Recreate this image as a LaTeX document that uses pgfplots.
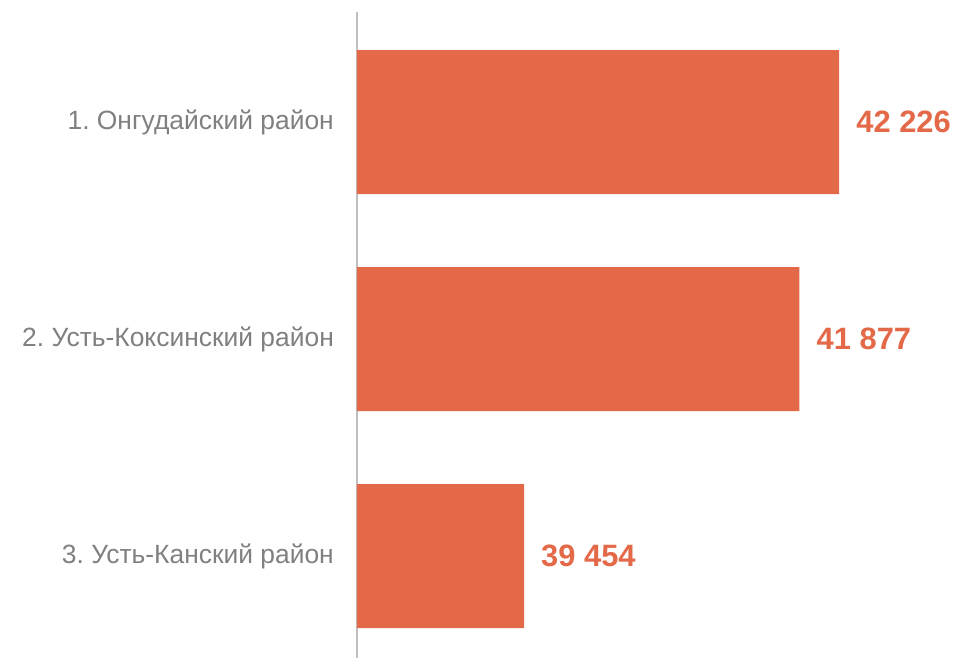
\documentclass[border=0pt]{standalone}
\usepackage{pgfplots}
\pgfplotsset{compat=1.18}
\usepackage{fontspec}
\setmainfont{Liberation Sans}
\definecolor{barc}{RGB}{227,105,72}
\definecolor{labc}{RGB}{128,128,128}
\definecolor{axc}{RGB}{191,191,191}
\begin{document}
\frenchspacing
\begin{tikzpicture}
\useasboundingbox (-357bp,0bp) rectangle (602bp,658bp);
\begin{axis}[
  at={(0,0)}, anchor=south west,
  scale only axis,
  width=602bp, height=646bp,
  xbar, bar width=144bp,
  xmin=37985, xmax=43280,
  ymin=-0.507, ymax=2.47,
  y dir=reverse,
  axis x line=none,
  axis y line*=left,
  y axis line style={draw=axc, line width=2.2bp, -},
  ytick={0,1,2},
  yticklabels={1. Онгудайский район, 2. Усть-Коксинский район, 3. Усть-Канский район},
  yticklabel style={font=\frenchspacing\fontsize{26.5}{30}\selectfont, text=labc, inner sep=0pt, xshift=-23bp},
  major tick length=0pt,
  point meta=explicit symbolic,
  nodes near coords,
  every node near coord/.append style={font=\fontsize{31}{34}\selectfont\bfseries, text=barc, anchor=west, inner sep=0pt, xshift=17bp},
]
\addplot[fill=barc, draw=none] coordinates {
  (42226,0) [42 226]
  (41877,1) [41 877]
  (39454,2) [39 454]
};
\end{axis}
\end{tikzpicture}
\end{document}
